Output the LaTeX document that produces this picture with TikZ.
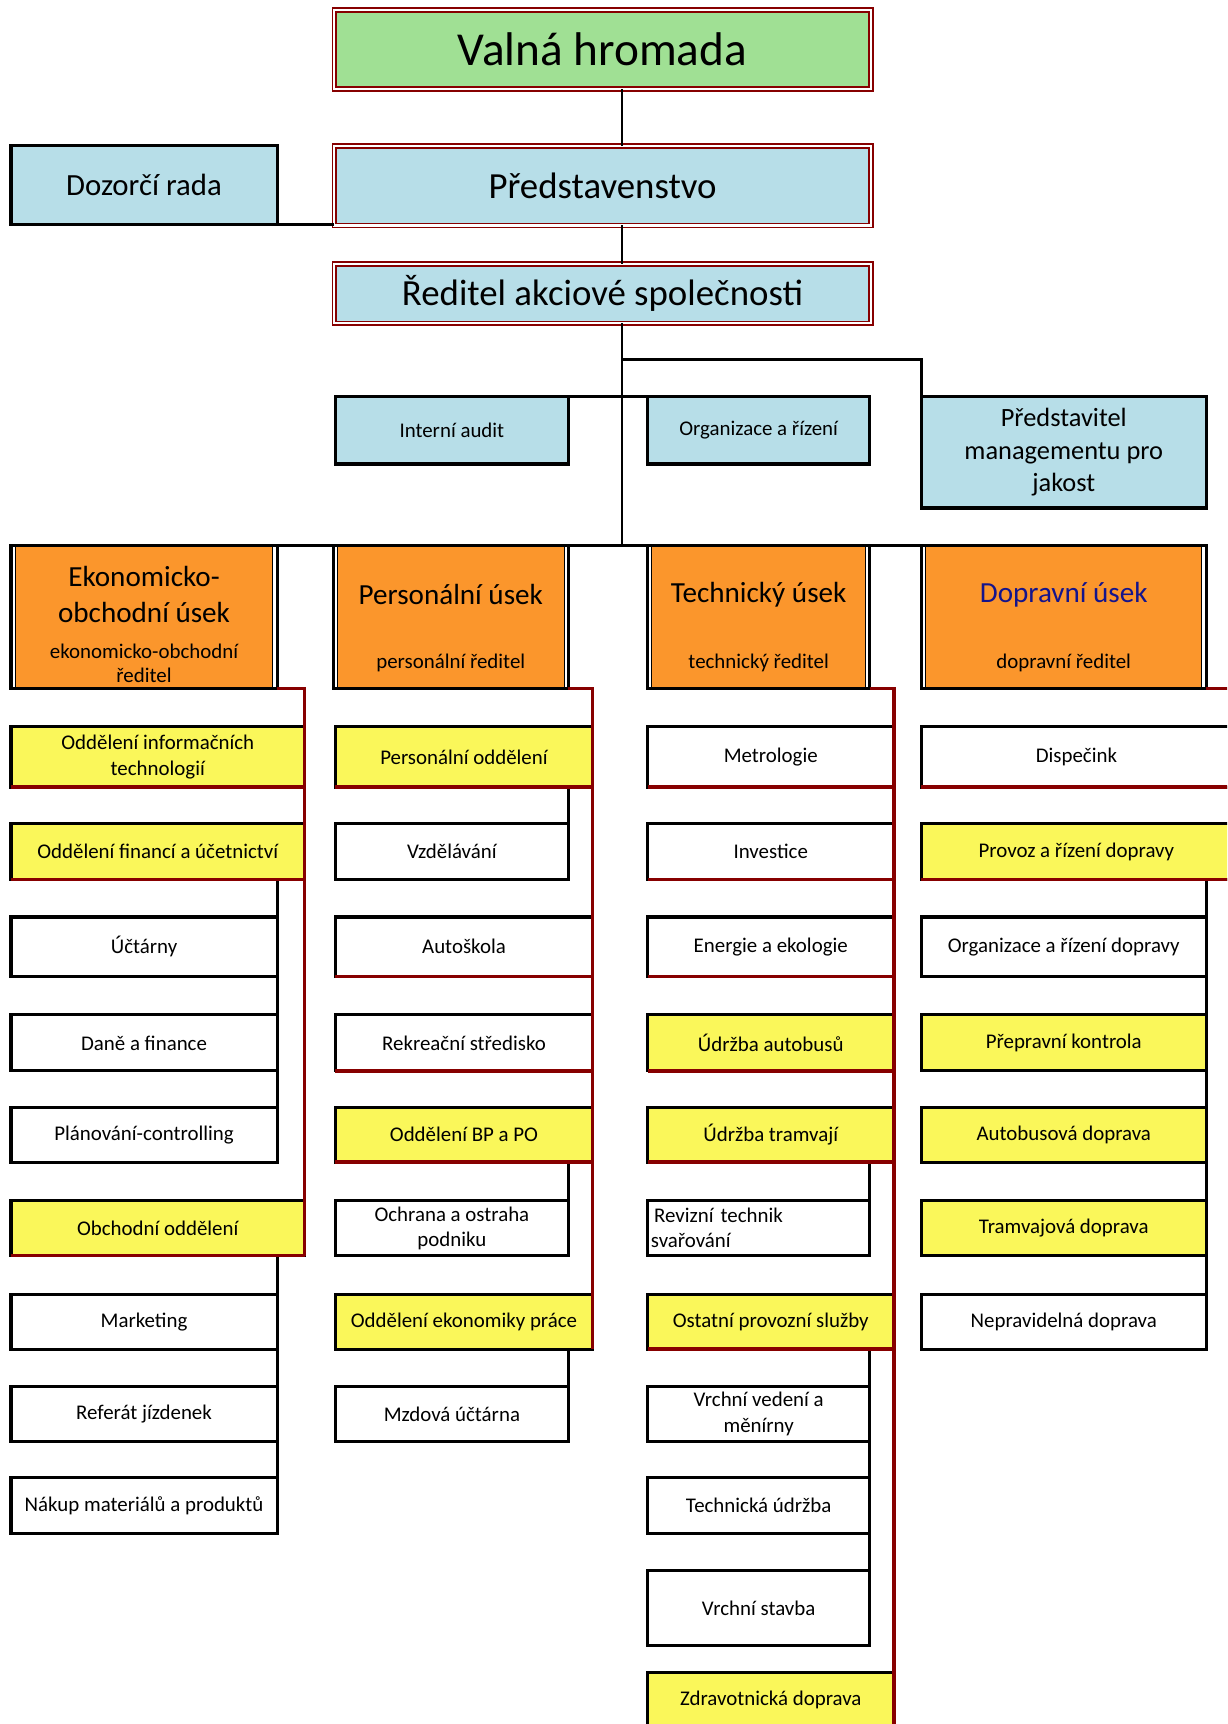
\documentclass[tikz,border=0pt]{standalone}
\usepackage{fontspec}
\setmainfont{Carlito}

\definecolor{valnagreen}{RGB}{160,224,148}
\definecolor{boardblue}{RGB}{183,222,232}
\definecolor{sectorange}{RGB}{251,150,44}
\definecolor{deptyellow}{RGB}{250,247,90}
\definecolor{linered}{RGB}{135,0,0}
\definecolor{navytext}{RGB}{20,20,140}

\tikzset{
  box/.style={draw=black, line width=2.8pt, anchor=north west, outer sep=0pt,
              inner sep=3pt, align=center, font=\fontsize{19}{23}\selectfont},
  whitebox/.style={box, fill=white},
  yellowbox/.style={box, fill=deptyellow},
  bluebox/.style={box, fill=boardblue},
  sectbox/.style={box, fill=sectorange, minimum height=130},
  topbox/.style={draw=linered, double=white, double distance=2.2pt, line width=1.4pt,
                 anchor=north west, outer sep=0pt, minimum width=488, align=center},
  conn/.style={line width=2pt},
  deptline/.style={line width=2.8pt},
  redconn/.style={line width=3.2pt, linered},
  secttitle/.style={align=center, font=\fontsize{26.5}{33}\selectfont},
  sectsub/.style={align=center, font=\fontsize{19}{22}\selectfont},
}

\begin{document}
\begin{tikzpicture}[x=1pt,y=-1pt]
\path[use as bounding box] (0,0) rectangle (1116,1568);
\clip (0,0) rectangle (1116,1568);

% vedeni
\node[topbox, fill=valnagreen, minimum height=72, font=\fontsize{43}{50}\selectfont] (valna) at (304,9) {Valná hromada};
\node[topbox, fill=boardblue, minimum height=72, font=\fontsize{33.5}{40}\selectfont] (pred) at (304,133) {Představenstvo};
\node[topbox, fill=boardblue, minimum height=54, font=\fontsize{33.5}{40}\selectfont] (reditel) at (304,240) {Ředitel akciové společnosti};
\node[bluebox, minimum width=242, minimum height=72, font=\fontsize{28}{34}\selectfont] (dozor) at (10,132) {Dozorčí rada};

\node[bluebox, minimum width=212, minimum height=61] (audit) at (305,361) {Interní audit};
\node[bluebox, minimum width=202, minimum height=61] (orgr) at (589,361) {Organizace a řízení};
\node[bluebox, minimum width=259, minimum height=101, font=\fontsize{24}{29.5}\selectfont] (jakost) at (838,361) {Představitel\\managementu pro\\jakost};

% useky
\node[sectbox, minimum width=242] (ekon) at (10,496) {};
\node[sectbox, minimum width=214] (pers) at (303,496) {};
\node[sectbox, minimum width=202] (tech) at (589,496) {};
\node[sectbox, minimum width=259] (dopr) at (838,496) {};

\foreach \sect in {ekon,pers,tech,dopr}{
  \draw[white, line width=2pt] ([xshift=2.4,yshift=-1.4]\sect.north west) -- ([xshift=2.4,yshift=1.4]\sect.south west);
  \draw[line width=0.9pt] ([xshift=3.8,yshift=-1.4]\sect.north west) -- ([xshift=3.8,yshift=1.4]\sect.south west);
  \draw[white, line width=2pt] ([xshift=-2.4,yshift=-1.4]\sect.north east) -- ([xshift=-2.4,yshift=1.4]\sect.south east);
  \draw[line width=0.9pt] ([xshift=-3.8,yshift=-1.4]\sect.north east) -- ([xshift=-3.8,yshift=1.4]\sect.south east);
}

\node[secttitle] (ekonT) at ([yshift=-45]ekon.north) {Ekonomicko-\\obchodní úsek};
\node[sectsub] (ekonS) at ([yshift=-107]ekon.north) {ekonomicko-obchodní\\ředitel};
\node[secttitle] (persT) at ([yshift=-45]pers.north) {Personální úsek};
\node[sectsub] (persS) at ([yshift=-107]pers.north) {personální ředitel};
\node[secttitle] (techT) at ([yshift=-45]tech.north) {Technický úsek};
\node[sectsub] (techS) at ([yshift=-107]tech.north) {technický ředitel};
\node[secttitle, text=navytext] (doprT) at ([yshift=-45]dopr.north) {Dopravní úsek};
\node[sectsub] (doprS) at ([yshift=-107]dopr.north) {dopravní ředitel};

% ekonomicko-obchodni usek
\node[yellowbox, minimum width=267, minimum height=55] (infotech) at (10,661) {Oddělení informačních\\technologií};
\node[yellowbox, minimum width=267, minimum height=51] (finance) at (10,749) {Oddělení financí a účetnictví};
\node[whitebox, minimum width=242, minimum height=54] (uctarny) at (10,834) {Účtárny};
\node[whitebox, minimum width=242, minimum height=51] (dane) at (10,923) {Daně a finance};
\node[whitebox, minimum width=242, minimum height=50] (planovani) at (10,1007) {Plánování-controlling};
\node[yellowbox, minimum width=267, minimum height=50] (obchod) at (10,1092) {Obchodní oddělení};
\node[whitebox, minimum width=242, minimum height=50] (marketing) at (10,1177) {Marketing};
\node[whitebox, minimum width=242, minimum height=50] (jizdenky) at (10,1261) {Referát jízdenek};
\node[whitebox, minimum width=242, minimum height=51] (nakup) at (10,1344) {Nákup materiálů a produktů};

% personalni usek
\node[yellowbox, minimum width=234, minimum height=55] (persodd) at (305,661) {Personální oddělení};
\node[whitebox, minimum width=212, minimum height=51] (vzdel) at (305,749) {Vzdělávání};
\node[whitebox, minimum width=234, minimum height=54] (autoskola) at (305,834) {Autoškola};
\node[whitebox, minimum width=234, minimum height=51] (rekreace) at (305,923) {Rekreační středisko};
\node[yellowbox, minimum width=234, minimum height=50] (bppo) at (305,1007) {Oddělení BP a PO};
\node[whitebox, minimum width=212, minimum height=50] (ochrana) at (305,1092) {Ochrana a ostraha\\podniku};
\node[yellowbox, minimum width=234, minimum height=50] (ekprace) at (305,1177) {Oddělení ekonomiky práce};
\node[whitebox, minimum width=212, minimum height=50] (mzdy) at (305,1261) {Mzdová účtárna};

% technicky usek
\node[whitebox, minimum width=224, minimum height=55] (metro) at (589,661) {Metrologie};
\node[whitebox, minimum width=224, minimum height=51] (invest) at (589,749) {Investice};
\node[whitebox, minimum width=224, minimum height=54] (energie) at (589,834) {Energie a ekologie};
\node[yellowbox, minimum width=224, minimum height=51] (udrzbaA) at (589,923) {Údržba autobusů};
\node[yellowbox, minimum width=224, minimum height=50] (udrzbaT) at (589,1007) {Údržba tramvají};
\node[whitebox, minimum height=50, text width=196, inner sep=3pt, align=left] (revize) at (589,1092) {\hspace{3pt}Revizní technik\\svařování};
\node[yellowbox, minimum width=224, minimum height=50] (ostatni) at (589,1177) {Ostatní provozní služby};
\node[whitebox, minimum width=202, minimum height=50] (vedeni) at (589,1261) {Vrchní vedení a\\měnírny};
\node[whitebox, minimum width=202, minimum height=51] (udrzbaTech) at (589,1344) {Technická údržba};
\node[whitebox, minimum width=202, minimum height=69] (stavba) at (589,1428) {Vrchní stavba};
\node[yellowbox, minimum width=224, minimum height=50] (zdrav) at (589,1521) {Zdravotnická doprava};

% dopravni usek
\node[whitebox, minimum width=282, minimum height=55] (dispecink) at (838,661) {Dispečink};
\node[yellowbox, minimum width=282, minimum height=51] (provoz) at (838,749) {Provoz a řízení dopravy};
\node[whitebox, minimum width=259, minimum height=54] (orgdop) at (838,834) {Organizace a řízení dopravy};
\node[yellowbox, minimum width=259, minimum height=51] (kontrola) at (838,923) {Přepravní kontrola};
\node[yellowbox, minimum width=259, minimum height=50] (autobus) at (838,1007) {Autobusová doprava};
\node[yellowbox, minimum width=259, minimum height=50] (tramvaj) at (838,1092) {Tramvajová doprava};
\node[whitebox, minimum width=259, minimum height=50] (neprav) at (838,1177) {Nepravidelná doprava};

% spojnice nahore
\coordinate (trunk) at (566,0);
\coordinate (jakostfork) at (566,327);
\draw[conn] (valna.south -| trunk) -- (pred.north -| trunk);
\draw[conn] (pred.south -| trunk) -- (reditel.north -| trunk);
\draw[conn] (reditel.south -| trunk) -- (ekon.north -| trunk);
\draw[deptline] (dozor.south east) -- (dozor.south east -| pred.west);
\draw[deptline] (jakostfork) -| (jakost.north west);
\draw[deptline] (audit.north east) -- (orgr.north west);
\draw[line width=3.2pt] (ekon.north west) -- (dopr.north east);

% cerne spojnice
\draw[deptline] (finance.south -| uctarny.east) -- (planovani.south east);
\draw[deptline] (obchod.south -| marketing.east) -- (nakup.south east);
\draw[deptline] (persodd.south -| vzdel.east) -- (vzdel.north east);
\draw[deptline] (bppo.south -| ochrana.east) -- (ochrana.north east);
\draw[deptline] (ekprace.south -| mzdy.east) -- (mzdy.north east);
\draw[deptline] (udrzbaT.south -| revize.east) -- (revize.north east);
\draw[deptline] (ostatni.south -| vedeni.east) -- (stavba.south east);
\draw[deptline] (provoz.south -| orgdop.east) -- (neprav.south east);

% cervene spojnice
\draw[redconn] (ekon.south east) -| (obchod.south east);
\draw[redconn] (pers.south east) -| (ekprace.south east);
\draw[redconn] (tech.south east) -| (zdrav.south east);
\draw[redconn] (dopr.south east) -| (provoz.south east);
\foreach \dept in {infotech,finance,obchod,persodd,autoskola,rekreace,bppo,
                   metro,invest,energie,udrzbaA,udrzbaT,ostatni,zdrav,dispecink,provoz}
  \draw[redconn] (\dept.south west) -- (\dept.south east);

\end{tikzpicture}
\end{document}
